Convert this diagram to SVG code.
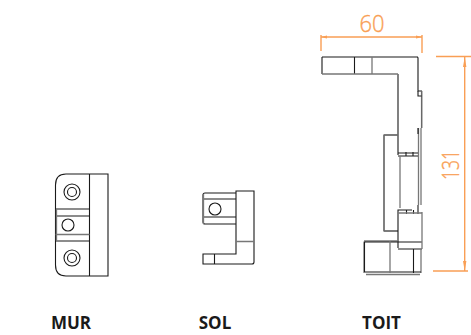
<svg xmlns="http://www.w3.org/2000/svg" width="471" height="335" viewBox="0 0 471 335">
<style>
.l{fill:none;stroke:#1a1a1a;stroke-width:1.1}
.g{fill:none;stroke:#777;stroke-width:1.3}
.d{fill:none;stroke:#f99f55;stroke-width:1.4}
.a{fill:#f99f55;stroke:none}
.n{font-family:"Open Sans","Noto Sans",sans-serif;font-weight:300;font-size:24px;fill:#f99f55;stroke:#f99f55;stroke-width:.4;text-anchor:middle}
.t{font-family:"Open Sans","Liberation Sans",sans-serif;font-weight:700;font-size:17px;fill:#1a1a1a;text-anchor:middle}
</style>
<g id="mur">
<path class="l" d="M66 174H108V276H66Q55.500 276 55.500 265V185Q55.500 174 66 174Z"/>
<path class="l" d="M89.500 174V276M55.500 209H89.500M55.500 216H89.500M55.500 241H89.500"/>
<path class="g" d="M56.500 209V241M55.500 234.500H89.500"/>
<circle class="l" cx="72" cy="192" r="8"/><circle class="l" cx="72" cy="192" r="4.500"/>
<circle class="l" cx="68" cy="225" r="6"/>
<circle class="l" cx="72" cy="258" r="8"/><circle class="l" cx="72" cy="258" r="4.500"/>
<text class="t" x="71" y="329">MUR</text>
</g>
<g id="sol">
<path class="l" d="M236 191H254V262Q254 264 252 264H203V254H236Z"/>
<path class="l" d="M236 193H205Q203 193 203 195V222Q203 224 205 224H236M203 199H236M203 217H236M214.500 254V264"/>
<path class="g" d="M203.500 194V224M236 241.500H254"/>
<circle class="l" cx="215" cy="209" r="6"/>
<text class="t" x="215" y="329">SOL</text>
</g>
<g id="toit">
<path class="l" d="M322 57H417.500L418 58V91H421.500V128M322 57V74M398 74V155M354.500 57V74"/>
<path class="g" d="M372 57V74M322 74H398M421.800 91V128"/>
<path class="l" d="M418 91V96H421.500"/>
<path class="g" d="M418.500 128V205M421 128V205"/>
<path class="l" d="M418 128V134M398 153H418M398 156H418M406 152V156M413 152V156M398 135H384V231H398"/>
<path class="g" d="M384 135H398M384 231H398M400 156V208"/>
<path class="l" d="M398 248V210H412M398 242H422M398 249H422M406.500 210V214M413.500 210V214M418 205V214M413.500 249V273"/>
<path class="g" d="M398 213H422M422 212V249M364 241H398M364 273V243Q364 241 366 241M421 249V273M366 274.500H420"/>
<path class="l" d="M364.500 242H398M364.500 242V272M364.500 272H421"/>
<path class="g" d="M390 241V273"/>
<text class="t" x="381.500" y="329">TOIT</text>
</g>
<g id="connectors">
<path class="d" d="M321 35V51M422 35V53M321 37H422M436 56.500H472M433 271H468M464.700 56.500V271"/>
<path class="a" d="M321 37L327 35.500V38.500ZM422 37L416 35.500V38.500ZM464.700 57L463 67H466.400ZM464.700 271L463 261H466.400Z"/>
<text class="n" x="372" y="32" textLength="25" lengthAdjust="spacingAndGlyphs">60</text>
<text class="n" x="459" y="165" textLength="30" lengthAdjust="spacingAndGlyphs" transform="rotate(-90 459 165)">131</text>
</g>
</svg>
